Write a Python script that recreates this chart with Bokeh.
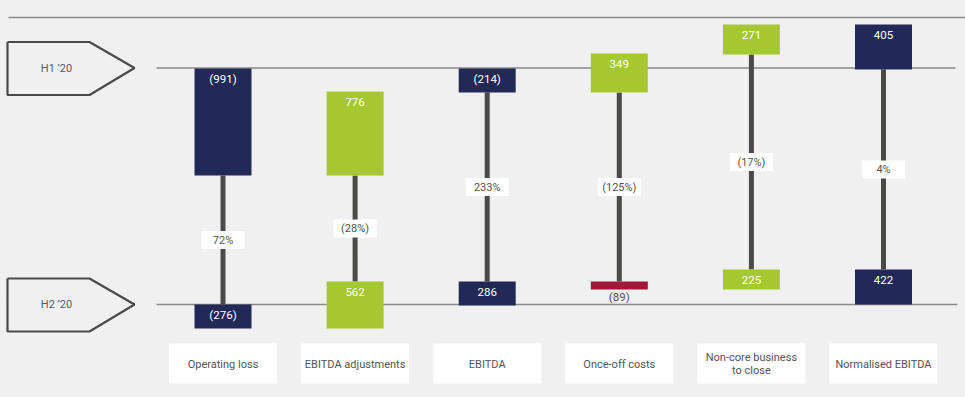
from bokeh.plotting import figure
from bokeh.models import Range1d, ColumnDataSource
from bokeh.core.properties import value
from bokeh.embed import file_html
from bokeh.resources import INLINE

# ---------------- data ----------------
categories = ["Operating loss", "EBITDA adjustments", "EBITDA", "Once-off costs",
              "Non-core business\nto close", "Normalised EBITDA"]
h1_values = [-991, 776, -214, 349, 271, 405]
h2_values = [-276, 562, 286, -89, 225, 422]
change_labels = ["72%", "(28%)", "233%", "(125%)", "(17%)", "4%"]
period_labels = ["H1 \u201920", "H2 \u201920"]

# ---------------- layout / style ----------------
NAVY, GREEN, RED = "#222957", "#a5c730", "#a4163b"
BG = "#f0f0f0"
TXT = "#555555"
FONT = value("Roboto")
h1_colors = [NAVY, GREEN, NAVY, GREEN, GREEN, NAVY]
h2_colors = [NAVY, GREEN, NAVY, RED, GREEN, NAVY]
# vertical extents of the boxes (page pixels)
h1_top = [68, 91, 68, 53, 24, 24]
h1_bot = [175, 175, 92, 92, 54, 69]
h2_top = [304, 281, 281, 281, 269, 269]
h2_bot = [328, 328, 305, 289, 289, 304]
label_inside = [True, True, True, False, True, True]

H1_Y, H2_Y = 67.5, 304
W, H = 965, 397
STEP = 132.1
X0 = -222.5 / STEP
X1 = X0 + W / STEP


def px(xp):
    return X0 + xp / STEP


def fmt(v):
    return f"({abs(v)})" if v < 0 else f"{v}"


p = figure(width=W, height=H, output_backend="svg", toolbar_location=None,
           x_range=Range1d(X0, X1), y_range=Range1d(H, 0),
           background_fill_color=BG, border_fill_color=BG, outline_line_color=None,
           min_border=0)
p.xaxis.visible = False
p.yaxis.visible = False
p.xgrid.visible = False
p.ygrid.visible = False

idx = list(range(len(categories)))

# reference lines
p.segment(x0=[px(8), px(156), px(156)], x1=[px(965), px(955), px(957)],
          y0=[17, H1_Y, H2_Y], y1=[17, H1_Y, H2_Y], line_color="#8a8a8a", line_width=1.3)

# period arrows
for yc, lab in zip([H1_Y, H2_Y], period_labels):
    xs = [px(7), px(89), px(134), px(89), px(7), px(7)]
    ys = [yc - 26, yc - 26, yc, yc + 27, yc + 27, yc - 26]
    p.line(xs, ys, line_color="#4a4a4a", line_width=2.2)
    p.text(x=[px(56)], y=[yc], text=[lab], text_font=FONT, text_font_size="11px",
           text_color="#5a5b70", text_align="center", text_baseline="middle")

# connectors
p.segment(x0=idx, x1=idx, y0=h1_bot, y1=h2_top, line_color="#4a4a48", line_width=5)

# boxes
hw = 28.5 / STEP
p.quad(left=[i - hw for i in idx], right=[i + hw for i in idx], top=h1_top, bottom=h1_bot,
       fill_color=h1_colors, line_color=None)
p.quad(left=[i - hw for i in idx], right=[i + hw for i in idx], top=h2_top, bottom=h2_bot,
       fill_color=h2_colors, line_color=None)

# value labels
p.text(x=idx, y=[t + 10 for t in h1_top], text=[fmt(v) for v in h1_values],
       text_font=FONT, text_font_size="11.5px", text_color="white",
       text_align="center", text_baseline="middle")
src2 = ColumnDataSource(dict(
    x=idx,
    y=[t + 10 if ins else b + 7 for t, b, ins in zip(h2_top, h2_bot, label_inside)],
    t=[fmt(v) for v in h2_values],
    c=["white" if ins else TXT for ins in label_inside]))
p.text(x="x", y="y", text="t", text_color="c", source=src2,
       text_font=FONT, text_font_size="11.5px", text_align="center", text_baseline="middle")

# change labels
mid = [(a + b) / 2 for a, b in zip(h1_bot, h2_top)]
pw = 21.5 / STEP
p.quad(left=[i - pw for i in idx], right=[i + pw for i in idx],
       top=[m - 9 for m in mid], bottom=[m + 9 for m in mid], fill_color="white", line_color=None)
p.text(x=idx, y=mid, text=change_labels, text_font=FONT, text_font_size="11px",
       text_color=TXT, text_align="center", text_baseline="middle")

# category label boxes
cw = 54 / STEP
p.quad(left=[i - cw for i in idx], right=[i + cw for i in idx], top=343, bottom=383,
       fill_color="white", line_color=None)
p.text(x=idx, y=[363.5] * len(idx), text=categories, text_font=FONT, text_font_size="11px",
       text_color=TXT, text_align="center", text_baseline="middle", text_line_height=1.0)

html = file_html(p, INLINE)
html = html.replace("</head>",
                    "<style>html,body{background:#f0f0f0;margin:0;padding:0;overflow:hidden;}</style></head>", 1)
open("out.html", "w").write(html)
